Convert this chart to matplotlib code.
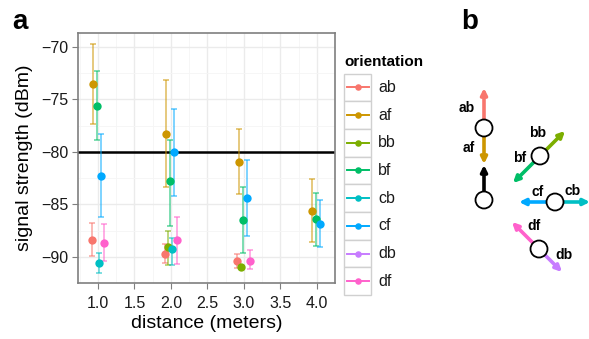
import numpy as np
import matplotlib
matplotlib.use("Agg")
import matplotlib.pyplot as plt
from matplotlib.patches import Circle, Rectangle, FancyArrowPatch

# ── Data ──────────────────────────────────────────────────────
ORIENTATIONS = ["ab", "af", "bb", "bf", "cb", "cf", "db", "df"]
COLORS = ["#F8766D", "#CD9600", "#7CAE00", "#00BE67",
          "#00BFC4", "#00A9FF", "#C77CFF", "#FF61CC"]

ab_dist = [1, 2, 3]
ab_mean = [-88.4, -89.7, -90.4]
ab_lo = [-89.9, -90.6, -91.1]
ab_hi = [-86.8, -88.8, -89.7]

af_dist = [1, 2, 3, 4]
af_mean = [-73.5, -78.3, -81.0, -85.6]
af_lo = [-77.4, -83.4, -84.0, -88.6]
af_hi = [-69.7, -73.2, -77.8, -82.6]

bb_dist = [2, 3]
bb_mean = [-89.1, -91.0]
bb_lo = [-90.8, -91.0]
bb_hi = [-87.5, -91.0]

bf_dist = [1, 2, 3, 4]
bf_mean = [-75.6, -82.8, -86.5, -86.4]
bf_lo = [-78.9, -87.1, -89.6, -89.0]
bf_hi = [-72.3, -78.9, -83.4, -83.9]

cb_dist = [1, 2]
cb_mean = [-90.6, -89.3]
cb_lo = [-91.5, -90.8]
cb_hi = [-89.6, -88.2]

cf_dist = [1, 2, 3, 4]
cf_mean = [-82.3, -80.0, -84.4, -86.9]
cf_lo = [-86.2, -84.2, -88.0, -89.1]
cf_hi = [-78.3, -75.9, -80.8, -84.6]

db_dist = []
db_mean = []
db_lo = []
db_hi = []

df_dist = [1, 2, 3]
df_mean = [-88.7, -88.4, -90.4]
df_lo = [-90.4, -90.7, -91.2]
df_hi = [-86.9, -86.2, -89.4]

SERIES = {
    "ab": (ab_dist, ab_mean, ab_lo, ab_hi),
    "af": (af_dist, af_mean, af_lo, af_hi),
    "bb": (bb_dist, bb_mean, bb_lo, bb_hi),
    "bf": (bf_dist, bf_mean, bf_lo, bf_hi),
    "cb": (cb_dist, cb_mean, cb_lo, cb_hi),
    "cf": (cf_dist, cf_mean, cf_lo, cf_hi),
    "db": (db_dist, db_mean, db_lo, db_hi),
    "df": (df_dist, df_mean, df_lo, df_hi),
}

THRESHOLD = -80
X_TICKS = [1.0, 1.5, 2.0, 2.5, 3.0, 3.5, 4.0]
Y_TICKS = [-90, -85, -80, -75, -70]

W, H = 589, 339
fig = plt.figure(figsize=(W / 100, H / 100), dpi=100)
plt.rcParams["font.family"] = ["Liberation Sans", "DejaVu Sans"]


def px_axes(left, top, right, bottom):
    return fig.add_axes([left / W, 1 - bottom / H, (right - left) / W, (bottom - top) / H])


# ── Panel a ───────────────────────────────────────────────────
ax = px_axes(78, 33, 335, 283)
ax.set_xlim(0.726, 4.247)
ax.set_ylim(-92.06, -68.69)
ax.set_xticks(X_TICKS)
ax.set_xticklabels([f"{t:.1f}" for t in X_TICKS])
ax.set_yticks(Y_TICKS)
ax.set_yticklabels([f"\u2212{abs(t)}" for t in Y_TICKS])
ax.set_xticks(np.arange(0.75, 4.3, 0.25), minor=True)
ax.set_yticks(np.arange(-92.5, -67.5, 2.5), minor=True)
ax.grid(which="major", color="#EBEBEB", lw=1.0)
ax.grid(which="minor", color="#F5F5F5", lw=0.6)
ax.set_axisbelow(True)
for sp in ax.spines.values():
    sp.set_color("#7F7F7F")
    sp.set_linewidth(1.2)
ax.tick_params(which="major", length=4, color="#7F7F7F", labelsize=11.5,
               labelcolor="#1A1A1A", pad=3)
ax.tick_params(axis="x", which="major", pad=5)
ax.tick_params(which="minor", length=0)

ax.axhline(THRESHOLD, color="black", lw=1.8, zorder=2)

for i, (name, color) in enumerate(zip(ORIENTATIONS, COLORS)):
    dist, mean, lo, hi = SERIES[name]
    if not dist:
        continue
    x = np.array(dist, dtype=float) + (i - 3.5) * 0.025
    mean = np.array(mean)
    yerr = [mean - np.array(lo), np.array(hi) - mean]
    ax.errorbar(x, mean, yerr=yerr, fmt="none", ecolor=color, alpha=0.55,
                elinewidth=1.3, capsize=2.5, capthick=1.3, zorder=3)
    ax.scatter(x, mean, s=36, color=color, zorder=4, linewidths=0)

ax.set_xlabel("distance (meters)", fontsize=14, labelpad=3)
ax.set_ylabel("signal strength (dBm)", fontsize=14, labelpad=6)

# ── Overlay: legend, labels, panel b ─────────────────────────
ov = fig.add_axes([0, 0, 1, 1], zorder=5)
ov.set_xlim(0, W)
ov.set_ylim(H, 0)
ov.axis("off")
ov.patch.set_alpha(0)

ov.text(12, 22, "a", fontsize=20, fontweight="bold", va="center", ha="left")
ov.text(461, 22, "b", fontsize=20, fontweight="bold", va="center", ha="left")

# legend
ov.text(344, 62, "orientation", fontsize=11, fontweight="bold", va="center", ha="left")
key_top, key_h = 73.5, 27.7
for i, (name, color) in enumerate(zip(ORIENTATIONS, COLORS)):
    y0 = key_top + i * key_h
    ov.add_patch(Rectangle((343.5, y0), 27, key_h, facecolor="white",
                           edgecolor="#D0D0D0", lw=1.0))
    yc = y0 + key_h / 2
    ov.plot([346.5, 368.5], [yc, yc], color=color, lw=1.4)
    ov.scatter([357.5], [yc], s=22, color=color, zorder=6, linewidths=0)
    ov.text(378, yc, name, fontsize=11.5, va="center", ha="left", color="#1A1A1A")

# panel b diagram
def arrow(x0, y0, x1, y1, color, lw=2.6):
    ov.add_patch(FancyArrowPatch((x0, y0), (x1, y1), arrowstyle="-|>",
                                 mutation_scale=9, color=color, lw=lw,
                                 shrinkA=0, shrinkB=0, zorder=6))


def node(x, y):
    ov.add_patch(Circle((x, y), 8.5, facecolor="white", edgecolor="black",
                        lw=1.3, zorder=7))


c = dict(zip(ORIENTATIONS, COLORS))
# a
arrow(484, 128, 484, 88, c["ab"])
arrow(484, 128, 484, 164, c["af"])
node(484, 128)
arrow(484, 200, 484, 165, "black")
node(484, 200)
ov.text(475, 108, "ab", fontsize=10, fontweight="bold", ha="right", va="center")
ov.text(475, 148, "af", fontsize=10, fontweight="bold", ha="right", va="center")
# b
arrow(540, 156, 565, 131, c["bb"])
arrow(540, 156, 513, 183, c["bf"])
node(540, 156)
ov.text(538, 133, "bb", fontsize=10, fontweight="bold", ha="center", va="center")
ov.text(520, 158, "bf", fontsize=10, fontweight="bold", ha="center", va="center")
# c
arrow(555, 202, 519, 202, c["cf"])
arrow(555, 202, 590, 202, c["cb"])
node(555, 202)
ov.text(538, 192, "cf", fontsize=10, fontweight="bold", ha="center", va="center")
ov.text(573, 191, "cb", fontsize=10, fontweight="bold", ha="center", va="center")
# d
arrow(539, 249, 512, 222, c["df"])
arrow(539, 249, 562, 272, c["db"])
node(539, 249)
ov.text(534, 226, "df", fontsize=10, fontweight="bold", ha="center", va="center")
ov.text(564, 255, "db", fontsize=10, fontweight="bold", ha="center", va="center")

fig.savefig("out.png", dpi=100)
